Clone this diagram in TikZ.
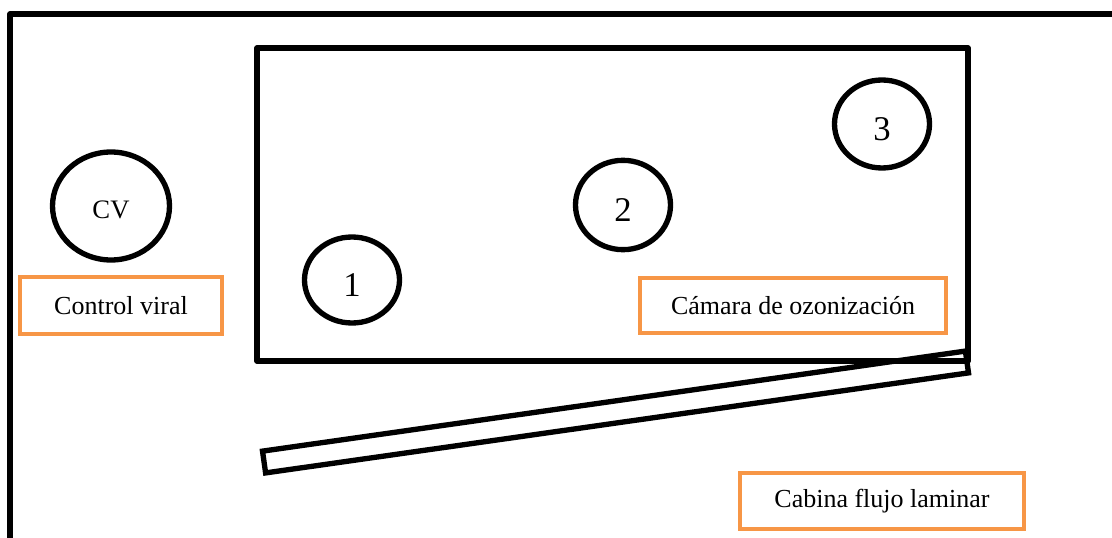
\documentclass[tikz,border=0pt]{standalone}
\usepackage{fontspec}
\setmainfont{Liberation Serif}
\usepackage{tikz}
\usetikzlibrary{shapes.geometric,positioning}

\definecolor{labelorange}{HTML}{F79646}

\tikzset{
  wall/.style={draw=black, line width=4pt},
  sample/.style={ellipse, draw=black, line width=4pt, inner sep=0pt, text height=25pt, text depth=0pt, font=\fontsize{26}{30}\selectfont},
  tag/.style={draw=labelorange, line width=3pt, inner sep=0pt, font=\fontsize{19.5}{23}\selectfont},
}

\begin{document}
\begin{tikzpicture}[x=0.75pt, y=-0.75pt]
\useasboundingbox (0,0) rectangle (1112,538);

% cabina y camara
\draw[wall, line cap=round, line join=round] (10,545) |- (1120,14);
\draw[wall, line join=round] (257,48) rectangle (968,361);
\node[wall, rotate=8.1, minimum width=532.5pt, minimum height=16.5pt, inner sep=0pt] (door) at (615.5,412) {};

\node[sample, minimum width=87.75pt, minimum height=81pt, text height=19pt, font=\fontsize{20}{24}\selectfont] (cv) at (111,206) {CV};
\node[sample, minimum width=71.25pt, minimum height=64.5pt] (s1) at (352,280) {1};
\node[sample, minimum width=71.25pt, minimum height=67pt] (s2) at (623,205) {2};
\node[sample, minimum width=71.25pt, minimum height=66pt] (s3) at (882,124) {3};

\node[tag, minimum width=151.5pt, minimum height=42.75pt] (cvlabel) at (121,305.5) {Control viral};
\node[tag, minimum width=229.5pt, minimum height=41.25pt] (chamberlabel) at (793,305.5) {Cámara de ozonización};
\node[tag, minimum width=213pt, minimum height=42pt] (cabinlabel) at (882,501) {Cabina flujo laminar};

\end{tikzpicture}
\end{document}
